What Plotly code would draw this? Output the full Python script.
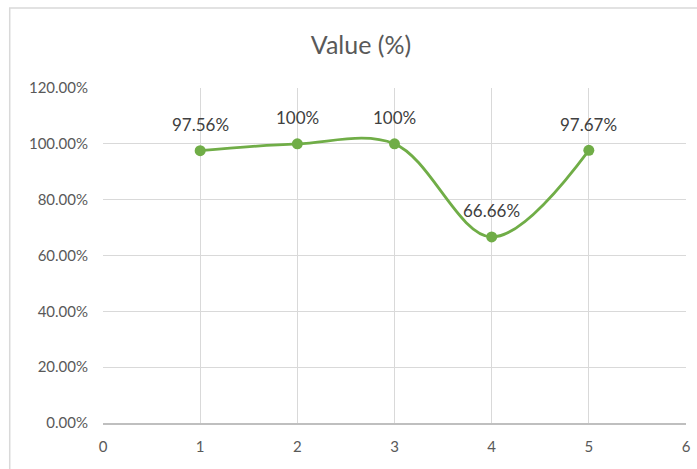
import plotly.graph_objects as go

x_vals = [1, 2, 3, 4, 5]
y_vals = [0.9756, 1.0, 1.0, 0.6666, 0.9767]
labels = ["97.56%", "100%", "100%", "66.66%", "97.67%"]
title_text = "Value (%)"

FONT = "Lato, sans-serif"
GRID = "#d9d9d9"
TXT = "#595959"
GREEN = "#70ad47"

fig = go.Figure()
fig.add_trace(go.Scatter(
    x=x_vals, y=y_vals, mode="lines+markers",
    line=dict(color=GREEN, width=2.8, shape="spline", smoothing=1.0),
    marker=dict(color=GREEN, size=11),
    cliponaxis=False, showlegend=False, hoverinfo="skip",
))

annotations = [
    dict(x=xv, y=yv, xref="x", yref="y", text=lab, showarrow=False,
         yanchor="middle", xanchor="center", yshift=26,
         font=dict(family=FONT, size=17, color="#404040"))
    for xv, yv, lab in zip(x_vals, y_vals, labels)
]

fig.update_layout(
    width=697, height=469,
    margin=dict(l=103, r=6, t=88, b=46),
    paper_bgcolor="white", plot_bgcolor="white",
    title=dict(text=title_text, x=361 / 697, xanchor="center", y=1 - 45 / 469, yanchor="middle",
               font=dict(family=FONT, size=25, color=TXT)),
    font=dict(family=FONT, size=15, color=TXT),
    xaxis=dict(range=[0, 6], dtick=1, tick0=0, showgrid=True, gridcolor=GRID, gridwidth=1,
               zeroline=False, showline=True, linecolor="#bfbfbf", linewidth=1.5,
               ticks="", ticklabelstandoff=9, tickfont=dict(family=FONT, size=15, color=TXT)),
    yaxis=dict(range=[0, 1.2], dtick=0.2, tickformat=".2%", showgrid=True, gridcolor=GRID,
               gridwidth=1, zeroline=False, showline=False, ticks="",
               ticklabelstandoff=14, tickfont=dict(family=FONT, size=15, color=TXT)),
    annotations=annotations,
    shapes=[dict(type="rect", xref="paper", yref="paper",
                 x0=-0.16, x1=1.2, y0=-0.3, y1=(423 - 8) / 335,
                 line=dict(color=GRID, width=1.5), fillcolor="rgba(0,0,0,0)", layer="below")],
)

fig.write_html("out.html", post_script="document.body.style.margin='0';",
               config={"displayModeBar": False})
